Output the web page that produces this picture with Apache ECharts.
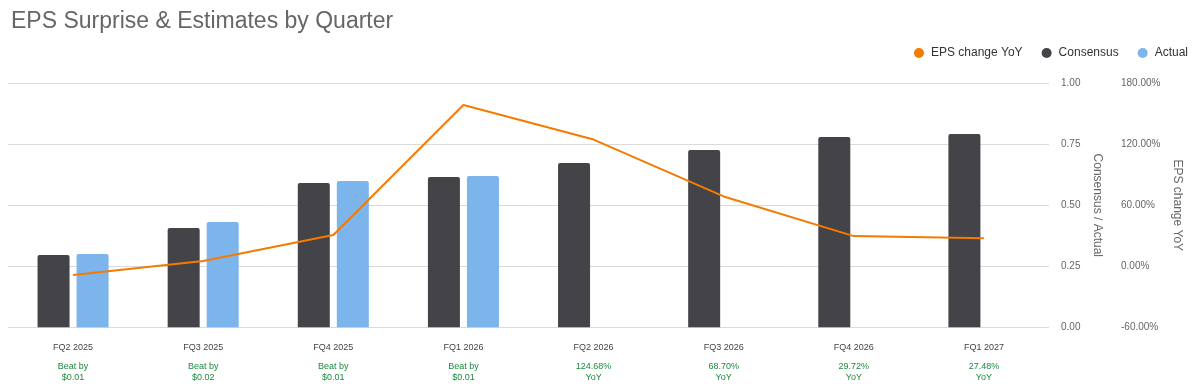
<!DOCTYPE html>
<html>
<head>
<meta charset="utf-8">
<script src="https://cdn.jsdelivr.net/npm/echarts@6/dist/echarts.min.js"></script>
<style>
html,body{margin:0;padding:0;background:#fff;}
#c{width:1199px;height:387px;}
</style>
</head>
<body>
<div id="c"></div>
<script>
const categories = ['FQ2 2025','FQ3 2025','FQ4 2025','FQ1 2026','FQ2 2026','FQ3 2026','FQ4 2026','FQ1 2027'];
const consensus = [0.296, 0.407, 0.591, 0.616, 0.673, 0.727, 0.780, 0.792];
const actual = [0.300, 0.432, 0.600, 0.620, null, null, null, null];
const epsChangeYoY = [-8.5, 5.2, 30.8, 158.7, 124.68, 68.70, 29.72, 27.48];
const surpriseLines = [['Beat by','$0.01'],['Beat by','$0.02'],['Beat by','$0.01'],['Beat by','$0.01'],['124.68%','YoY'],['68.70%','YoY'],['29.72%','YoY'],['27.48%','YoY']];
const leftTicks = {min:0, max:1, interval:0.25};
const rightTicks = {min:-60, max:180, interval:60};

const FONT = 'Liberation Sans, Arial, sans-serif';
const chart = echarts.init(document.getElementById('c'), null, {renderer:'canvas'});
chart.setOption({
  animation:false,
  textStyle:{fontFamily:FONT},
  title:{text:'EPS Surprise & Estimates by Quarter', left:6, top:5,
    textStyle:{fontFamily:FONT, fontSize:23, fontWeight:'normal', color:'#666666'}},
  legend:{
    data:['EPS change YoY','Consensus','Actual'],
    right:6, top:42, icon:'circle', itemWidth:14, itemHeight:10, itemGap:19,
    textStyle:{fontFamily:FONT, fontSize:12, color:'#333333'}
  },
  grid:{left:8, right:150, top:83.3, bottom:59.7, containLabel:false},
  xAxis:{
    type:'category', data:categories, boundaryGap:true,
    axisLine:{show:false}, axisTick:{show:false},
    axisLabel:{
      interval:0, margin:7,
      formatter:function(v, i){
        const s = surpriseLines[i];
        return '{a|' + v + '}\n{b|' + s[0] + '}\n{b|' + s[1] + '}';
      },
      rich:{
        a:{fontFamily:FONT, fontSize:9, lineHeight:27, color:'#444444', align:'center'},
        b:{fontFamily:FONT, fontSize:9, lineHeight:11, color:'#1a8a3e', align:'center'}
      }
    }
  },
  yAxis:[
    {type:'value', position:'right', min:leftTicks.min, max:leftTicks.max, interval:leftTicks.interval,
     name:'Consensus / Actual', nameLocation:'middle', nameRotate:-90, nameGap:35,
     nameTextStyle:{fontFamily:FONT, fontSize:12, color:'#666666'},
     axisLine:{show:false}, axisTick:{show:false},
     axisLabel:{margin:12, color:'#666666', fontSize:10, fontFamily:FONT, formatter:v=>v.toFixed(2)},
     splitLine:{show:true, lineStyle:{color:'#dadada', width:1}}},
    {type:'value', position:'right', offset:64, min:rightTicks.min, max:rightTicks.max, interval:rightTicks.interval,
     name:'EPS change YoY', nameLocation:'middle', nameRotate:-90, nameGap:44,
     nameTextStyle:{fontFamily:FONT, fontSize:12, color:'#666666'},
     axisLine:{show:false}, axisTick:{show:false},
     axisLabel:{margin:8, color:'#666666', fontSize:10, fontFamily:FONT, formatter:v=>v.toFixed(2)+'%'},
     splitLine:{show:false}}
  ],
  series:[
    {name:'Consensus', type:'bar', yAxisIndex:0, data:consensus, barWidth:32, barGap:'22%',
     itemStyle:{color:'#434348', borderRadius:[2,2,0,0]}},
    {name:'Actual', type:'bar', yAxisIndex:0, data:actual, barWidth:32, barGap:'22%',
     itemStyle:{color:'#7cb5ec', borderRadius:[2,2,0,0]}},
    {name:'EPS change YoY', type:'line', yAxisIndex:1, data:epsChangeYoY, symbol:'none', z:5,
     lineStyle:{color:'#f57a00', width:2}, itemStyle:{color:'#f57a00'}}
  ]
});
</script>
</body>
</html>
